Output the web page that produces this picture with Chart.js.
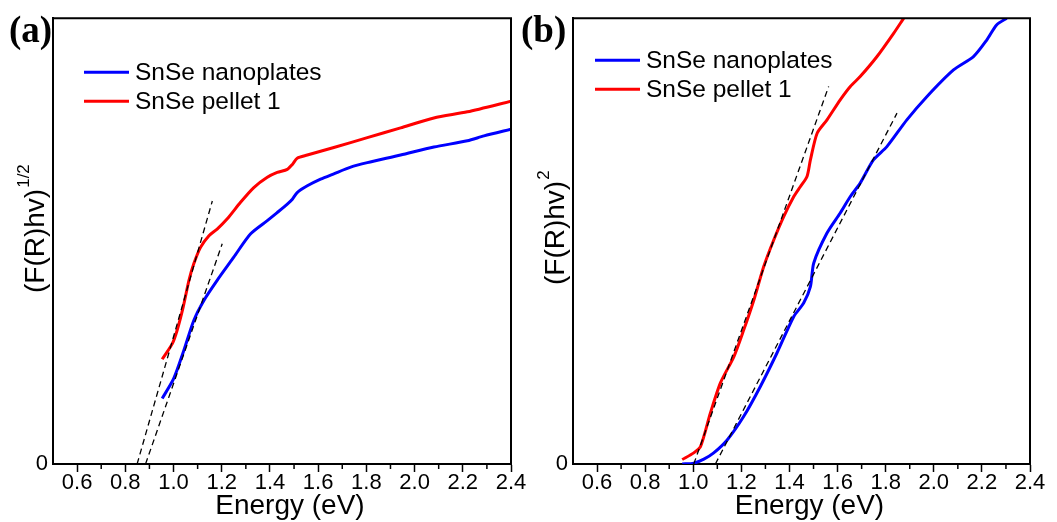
<!DOCTYPE html>
<html>
<head>
<meta charset="utf-8">
<script src="https://cdn.jsdelivr.net/npm/chart.js@4.4.0/dist/chart.umd.min.js"></script>
<style>
  body { margin: 0; background: #fff; width: 1057px; height: 522px; position: relative; overflow: hidden; }
  canvas { position: absolute; top: 0; }
  #ga { left: 0; }
  #gb { left: 520px; }
  .tag { position: absolute; top: 11px; font: bold 37px "Liberation Serif", "Times New Roman", serif; line-height: 1; color: #000; }
</style>
</head>
<body>
<canvas id="ga" width="545" height="522"></canvas>
<canvas id="gb" width="537" height="522"></canvas>
<div class="tag" style="left:9px">(a)</div>
<div class="tag" style="left:521px">(b)</div>
<script>
// eixo x (energia, eV)
var energyTicks = [0.6, 0.8, 1.0, 1.2, 1.4, 1.6, 1.8, 2.0, 2.2, 2.4];
var minorTicks = [0.7, 0.9, 1.1, 1.3, 1.5, 1.7, 1.9, 2.1, 2.3];
var yTicks = [0];

// (a) (F(R)hv)^1/2
var aNanoE = [0.953, 1.001, 1.043, 1.084, 1.126, 1.181, 1.250, 1.319, 1.389, 1.430, 1.472, 1.493, 1.513, 1.555, 1.610, 1.665, 1.735, 1.804, 1.942, 2.080, 2.219, 2.288, 2.401];
var aNanoY = [14.7, 19.2, 25.5, 32.2, 36.7, 41.2, 46.4, 51.6, 54.6, 56.4, 58.3, 59.4, 60.9, 62.4, 63.9, 65.1, 66.6, 67.6, 69.3, 71.1, 72.5, 73.6, 75.1];
var aPelletE = [0.953, 0.995, 1.015, 1.040, 1.064, 1.084, 1.112, 1.147, 1.181, 1.223, 1.278, 1.333, 1.389, 1.430, 1.472, 1.493, 1.513, 1.555, 1.665, 1.804, 1.942, 2.080, 2.219, 2.401];
var aPelletY = [23.5, 27.0, 30.0, 35.2, 41.2, 44.9, 48.6, 51.2, 52.7, 55.0, 58.7, 62.0, 64.3, 65.4, 66.1, 67.2, 68.6, 69.3, 71.0, 73.2, 75.4, 77.6, 79.0, 81.4];
var aFitNanoE = [0.884, 1.202];
var aFitNanoY = [0, 49.4];
var aFitPelletE = [0.849, 1.161];
var aFitPelletY = [0, 59.0];

// (b) (F(R)hv)^2
var bNanoE = [0.954, 1.002, 1.044, 1.085, 1.141, 1.210, 1.279, 1.348, 1.418, 1.459, 1.487, 1.501, 1.556, 1.611, 1.653, 1.694, 1.749, 1.805, 1.888, 1.971, 2.082, 2.165, 2.220, 2.261, 2.303];
var bNanoY = [0, 0.2, 1.1, 2.5, 5.4, 10.7, 17.4, 24.9, 33.1, 36.1, 39.8, 45.1, 51.8, 56.3, 60.0, 63.0, 68.2, 71.2, 77.2, 82.4, 88.4, 91.4, 95.1, 98.5, 100];
var bPelletE = [0.954, 1.002, 1.030, 1.071, 1.113, 1.169, 1.210, 1.252, 1.293, 1.335, 1.376, 1.418, 1.445, 1.473, 1.487, 1.515, 1.556, 1.611, 1.653, 1.694, 1.764, 1.833, 1.875];
var bPelletY = [1.0, 2.5, 3.9, 11.4, 18.2, 24.1, 30.1, 36.8, 44.3, 50.3, 55.5, 60.0, 62.2, 64.5, 68.2, 74.2, 77.2, 81.7, 84.7, 86.9, 91.4, 96.6, 100];
var bFitNanoE = [1.092, 1.847];
var bFitNanoY = [0, 78.7];
var bFitPelletE = [1.002, 1.563];
var bFitPelletY = [0, 84.7];

var FONTE = '"Liberation Sans", Arial, sans-serif';

function pontos(xs, ys) {
    return xs.map(function (x, i) { return { x: x, y: ys[i] }; });
}

function serie(nome, xs, ys, cor) {
    return { label: nome, data: pontos(xs, ys), borderColor: cor, backgroundColor: cor,
             borderWidth: 3, pointRadius: 0, tension: 0.25, fill: false, order: 1 };
}

function ajuste(xs, ys) {
    return { label: '', data: pontos(xs, ys), borderColor: '#000', borderWidth: 1.3,
             borderDash: [6, 4], pointRadius: 0, tension: 0, fill: false, order: 0 };
}

// moldura, ticks menores, titulos e legenda
var extras = {
    id: 'extras',
    afterDraw: function (chart, args, o) {
        var c = chart.ctx, a = chart.chartArea, sx = chart.scales.x;
        c.save();
        c.strokeStyle = '#000';
        c.lineWidth = 2;
        c.beginPath();
        c.moveTo(a.left, a.top); c.lineTo(a.right, a.top); c.lineTo(a.right, a.bottom);
        c.stroke();
        c.lineWidth = 1.5;
        minorTicks.forEach(function (v) {
            var px = sx.getPixelForValue(v);
            c.beginPath(); c.moveTo(px, a.bottom); c.lineTo(px, a.bottom + 5); c.stroke();
        });
        c.fillStyle = '#000';
        // titulo x
        c.font = '28px ' + FONTE;
        c.textAlign = 'center';
        c.textBaseline = 'alphabetic';
        c.fillText('Energy (eV)', (a.left + a.right) / 2 + 8, 514);
        // titulo y com expoente
        c.translate(o.yx, o.ystart);
        c.rotate(-Math.PI / 2);
        c.textAlign = 'left';
        c.textBaseline = 'middle';
        c.font = '28px ' + FONTE;
        c.fillText('(F(R)hv)', 0, 0);
        var w = c.measureText('(F(R)hv)').width;
        c.font = '17px ' + FONTE;
        c.fillText(o.sup, w + 1, -12);
        c.restore();
        // legenda
        c.save();
        c.font = '24.5px ' + FONTE;
        c.textBaseline = 'middle';
        c.fillStyle = '#000';
        var y = a.top + o.legY;
        chart.data.datasets.forEach(function (d) {
            if (!d.label) return;
            var x = a.left + o.legX;
            c.strokeStyle = d.borderColor;
            c.lineWidth = 3;
            c.beginPath(); c.moveTo(x, y); c.lineTo(x + 45, y); c.stroke();
            c.fillText(d.label, x + 51, y + 1);
            y += 29;
        });
        c.restore();
    }
};

function grafico(id, p) {
    return new Chart(document.getElementById(id), {
        type: 'line',
        data: {
            datasets: [
                serie('SnSe nanoplates', p.nanoE, p.nanoY, '#0000ff'),
                serie('SnSe pellet 1', p.pelletE, p.pelletY, '#ff0000'),
                ajuste(p.fitNanoE, p.fitNanoY),
                ajuste(p.fitPelletE, p.fitPelletY)
            ]
        },
        options: {
            responsive: false,
            animation: false,
            layout: { padding: { top: p.top, right: p.right, left: 0, bottom: 0 } },
            plugins: {
                legend: { display: false },
                tooltip: { enabled: false },
                extras: { yx: p.yx, ystart: p.ystart, sup: p.sup, legX: p.legX, legY: p.legY }
            },
            scales: {
                x: {
                    type: 'linear', min: 0.5, max: 2.4,
                    afterBuildTicks: function (s) { s.ticks = energyTicks.map(function (v) { return { value: v }; }); },
                    afterFit: function (s) { s.height = 58; },
                    ticks: { callback: function (v) { return v.toFixed(1); }, color: '#000', maxRotation: 0,
                             autoSkip: false, padding: -2, font: { family: FONTE, size: 22 } },
                    grid: { drawOnChartArea: false, drawTicks: true, tickLength: 8, tickWidth: 1.5, color: '#000' },
                    border: { color: '#000', width: 2 }
                },
                y: {
                    min: 0, max: 100,
                    afterBuildTicks: function (s) { s.ticks = yTicks.map(function (v) { return { value: v }; }); },
                    afterFit: function (s) { s.width = p.yWidth; },
                    ticks: { callback: function (v) { return String(v); }, color: '#000', padding: 5,
                             font: { family: FONTE, size: 22 } },
                    grid: { display: false, drawTicks: false },
                    border: { display: true, color: '#000', width: 2 }
                }
            }
        },
        plugins: [extras]
    });
}

grafico('ga', { nanoE: aNanoE, nanoY: aNanoY, pelletE: aPelletE, pelletY: aPelletY,
    fitNanoE: aFitNanoE, fitNanoY: aFitNanoY, fitPelletE: aFitPelletE, fitPelletY: aFitPelletY,
    top: 17, right: 34, yWidth: 53, yx: 36, ystart: 293, sup: '1/2', legX: 31, legY: 54 });

grafico('gb', { nanoE: bNanoE, nanoY: bNanoY, pelletE: bPelletE, pelletY: bPelletY,
    fitNanoE: bFitNanoE, fitNanoY: bFitNanoY, fitPelletE: bFitPelletE, fitPelletY: bFitPelletY,
    top: 18, right: 27, yWidth: 53, yx: 36, ystart: 285, sup: '2', legX: 22, legY: 42 });
</script>
</body>
</html>
